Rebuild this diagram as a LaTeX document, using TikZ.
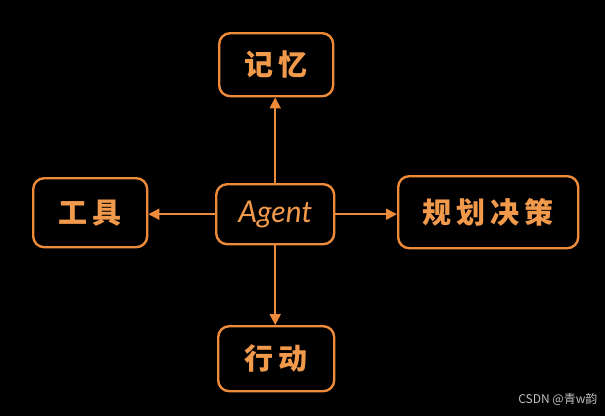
\documentclass[tikz,border=0pt]{standalone}
\usepackage{fontspec}
\setmainfont{Noto Sans CJK SC}
\newfontfamily\latinf{Lato}
\newfontfamily\wmfont{Noto Sans CJK SC}
\usetikzlibrary{arrows.meta}
\definecolor{org}{HTML}{EE8B3A}
\definecolor{orgtxt}{HTML}{F29A4C}
\begin{document}
\begin{tikzpicture}[x=1pt,y=-1pt,
  box/.style={draw=org, line width=2.4pt, rounded corners=11pt, text=orgtxt, font=\bfseries\fontsize{29}{30}\selectfont, inner sep=0pt, anchor=north west},
  conn/.style={draw=org, line width=2pt, -{Triangle[length=11pt,width=11pt]}}]
\fill[black] (0,0) rectangle (605,416);
\useasboundingbox (0,0) rectangle (605,416);
\node[box, minimum width=114pt, minimum height=63pt] (mem) at (218,32) {记\,忆};
\node[box, minimum width=118pt, minimum height=60pt, font=\latinf\itshape\fontsize{30}{31}\selectfont] (agent) at (215,183) {Agent};
\node[box, minimum width=114pt, minimum height=69pt] (tool) at (32,177) {工\,具};
\node[box, minimum width=180pt, minimum height=72pt] (plan) at (397,175) {规\,划\,决\,策};
\node[box, minimum width=116pt, minimum height=65pt] (act) at (217,325) {行\,动};
\draw[conn] (agent.north) -- (agent.north |- mem.south);
\draw[conn] (agent.west) -- (tool.east |- agent.west);
\draw[conn] (agent.east) -- (plan.west |- agent.east);
\draw[conn] (agent.south) -- (agent.south |- act.north);
\node[text=white!75!black, font=\wmfont\fontsize{12}{13}\selectfont, anchor=east] (wm) at (601,399) {CSDN @青w韵};
\end{tikzpicture}
\end{document}
